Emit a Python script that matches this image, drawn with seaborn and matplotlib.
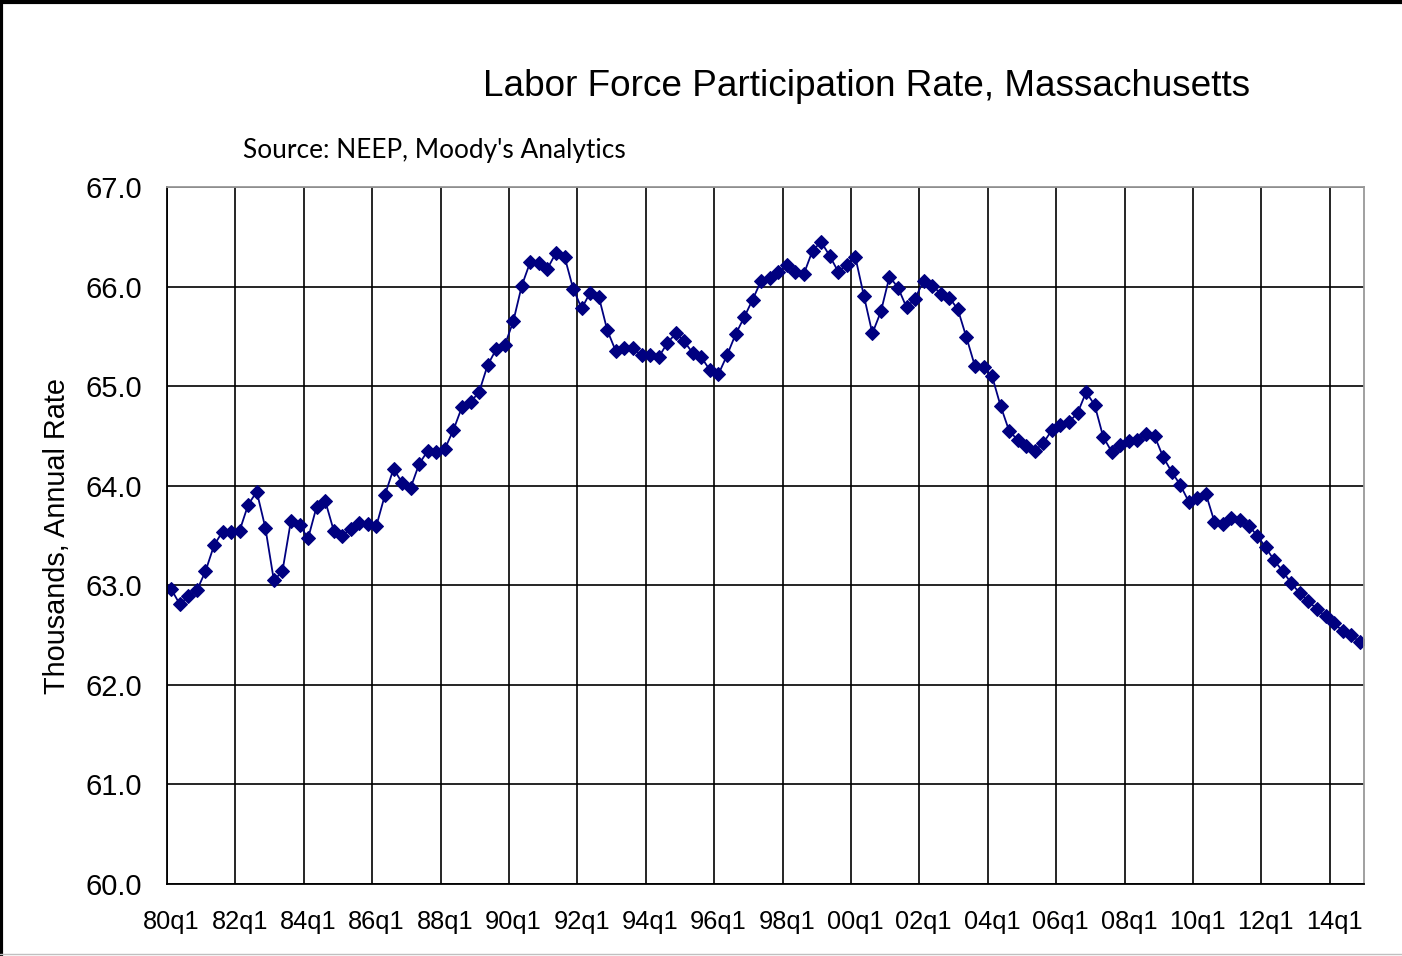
import numpy as np
import pandas as pd
import seaborn as sns
import matplotlib.pyplot as plt
from matplotlib.lines import Line2D

# quarterly labor force participation rate, 1980q1 .. 2014q4
years = list(range(1980, 2015))
rate = [
    62.96, 62.81, 62.89, 62.95, 63.14, 63.40, 63.54, 63.54,
    63.55, 63.81, 63.94, 63.58, 63.05, 63.14, 63.65, 63.61,
    63.47, 63.79, 63.85, 63.55, 63.50, 63.57, 63.63, 63.62,
    63.60, 63.91, 64.17, 64.03, 63.98, 64.22, 64.35, 64.34,
    64.37, 64.56, 64.79, 64.84, 64.94, 65.21, 65.37, 65.41,
    65.65, 66.01, 66.25, 66.24, 66.18, 66.34, 66.30, 65.98,
    65.78, 65.94, 65.90, 65.56, 65.35, 65.38, 65.38, 65.31,
    65.31, 65.29, 65.43, 65.53, 65.45, 65.33, 65.29, 65.16,
    65.12, 65.31, 65.52, 65.69, 65.87, 66.06, 66.09, 66.15,
    66.22, 66.15, 66.13, 66.36, 66.45, 66.31, 66.15, 66.22,
    66.30, 65.91, 65.53, 65.75, 66.10, 65.99, 65.79, 65.88,
    66.06, 66.01, 65.93, 65.89, 65.77, 65.49, 65.20, 65.19,
    65.10, 64.80, 64.55, 64.46, 64.40, 64.35, 64.43, 64.56,
    64.61, 64.64, 64.73, 64.94, 64.81, 64.49, 64.34, 64.41,
    64.45, 64.46, 64.52, 64.50, 64.29, 64.14, 64.01, 63.84,
    63.88, 63.92, 63.64, 63.62, 63.68, 63.66, 63.60, 63.50,
    63.38, 63.25, 63.14, 63.02, 62.92, 62.84, 62.76, 62.69,
    62.62, 62.54, 62.50, 62.43,
]
quarters = [f"{y % 100:02d}q{q}" for y in years for q in range(1, 5)]

df = pd.DataFrame({"quarter": quarters, "rate": rate})
df["pos"] = np.arange(len(df)) + 0.5  # points sit in the middle of each category slot

sns.set_style("white")
plt.rcParams["font.family"] = ["Liberation Sans", "DejaVu Sans"]
plt.rcParams["text.color"] = "black"
plt.rcParams["axes.labelcolor"] = "black"
plt.rcParams["xtick.color"] = "black"
plt.rcParams["ytick.color"] = "black"

fig = plt.figure(figsize=(14.02, 9.56), dpi=100)
ax = fig.add_axes([0.1191, 0.0753, 0.8538, 0.7291])

sns.lineplot(data=df, x="pos", y="rate", ax=ax, color="#000080", linewidth=1.3,
             marker="D", markersize=7.5, markeredgecolor="#000080")

ax.set_xlim(0, len(df))
ax.set_ylim(60, 67)
ax.set_yticks(np.arange(60, 67.1, 1))
ax.set_yticklabels([f"{v:.1f}" for v in np.arange(60, 67.1, 1)], fontsize=21)

# gridlines/ticks on category boundaries, labels centred on the category
tick_idx = list(range(0, len(df), 8))
ax.set_xticks(tick_idx)
ax.set_xticklabels([])
ax.set_xticks([i + 0.5 for i in tick_idx], minor=True)
ax.set_xticklabels([quarters[i] for i in tick_idx], minor=True, fontsize=18.3)
ax.tick_params(axis="both", which="major", direction="out", length=6, width=1.2, color="black")
ax.tick_params(axis="x", which="minor", length=0, pad=19)
ax.tick_params(axis="y", pad=12)

ax.grid(True, which="major", color="black", linewidth=1.2)
ax.set_axisbelow(True)
for side in ["left", "bottom"]:
    ax.spines[side].set_color("black")
    ax.spines[side].set_linewidth(1.3)
for side in ["top", "right"]:
    ax.spines[side].set_color("#999999")
    ax.spines[side].set_linewidth(1.3)

ax.set_xlabel("")
ax.set_ylabel("Thousands, Annual Rate", fontsize=20.8, labelpad=10)

fig.text(0.618, 0.909, "Labor Force Participation Rate, Massachusetts",
         fontsize=26.6, ha="center", va="center")
fig.text(0.173, 0.843, "Source: NEEP, Moody's Analytics",
         fontsize=18.9, ha="left", va="center", family=["Lato", "DejaVu Sans"])

# frame around the chart area
fig.add_artist(Line2D([0, 1], [0.998, 0.998], transform=fig.transFigure, color="black", linewidth=3))
fig.add_artist(Line2D([0.001, 0.001], [0, 1], transform=fig.transFigure, color="black", linewidth=3))
fig.add_artist(Line2D([0, 1], [0.002, 0.002], transform=fig.transFigure, color="#c0c0c0", linewidth=1))

fig.savefig("out.png", dpi=100)
